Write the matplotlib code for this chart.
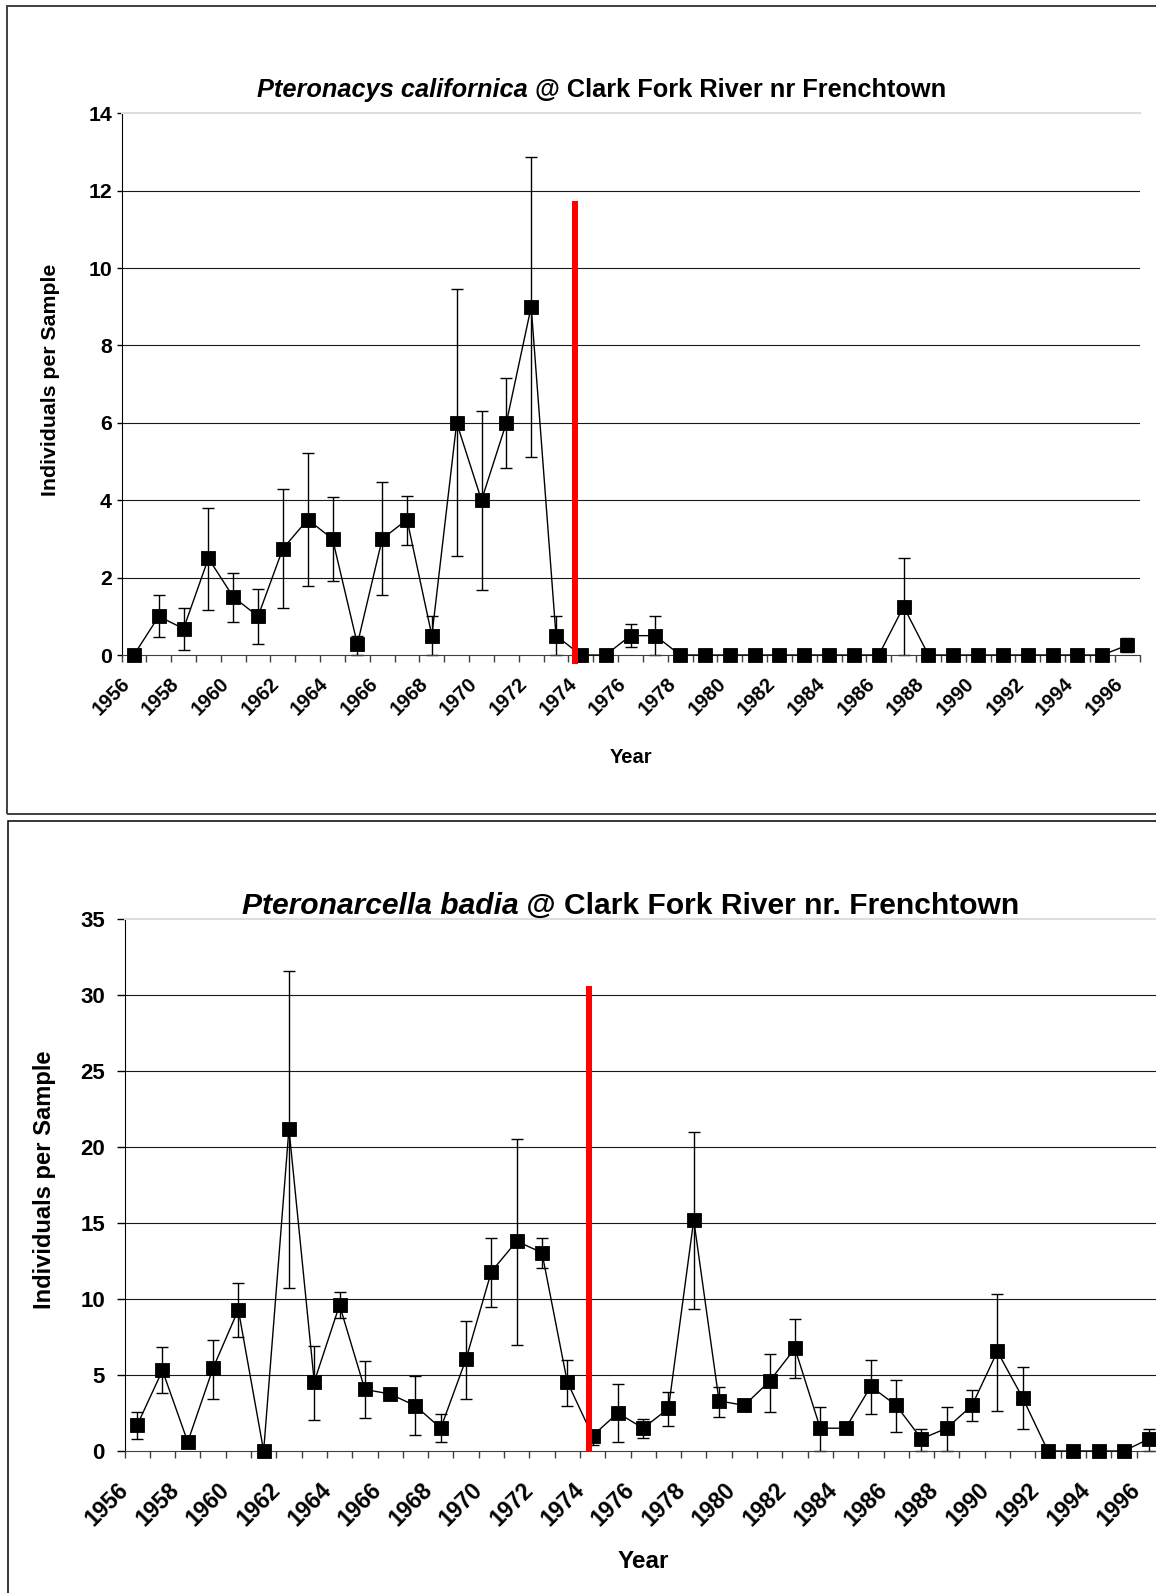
import numpy as np
import matplotlib
matplotlib.use("Agg")
import matplotlib.pyplot as plt
from matplotlib.transforms import ScaledTranslation
from matplotlib.patches import Rectangle

plt.rcParams['font.family'] = ['Liberation Sans', 'DejaVu Sans']
plt.rcParams['font.weight'] = 'bold'

years = np.arange(1956, 1997)
year_labels = [str(y) for y in years[::2]]

# Pteronarcys californica (top panel)
cal_mean = [0, 1.0, 0.68, 2.5, 1.5, 1.0, 2.75, 3.5, 3.0, 0.28,
            3.0, 3.5, 0.5, 6.0, 4.0, 6.0, 9.0, 0.5, 0, 0,
            0.5, 0.5, 0, 0, 0, 0, 0, 0, 0, 0,
            0, 1.25, 0, 0, 0, 0, 0, 0, 0, 0,
            0.25]
nan = np.nan
cal_low = [nan, 0.46, 0.13, 1.17, 0.84, 0.29, 1.21, 1.79, 1.92, 0.0,
           1.55, 2.84, 0.0, 2.55, 1.67, 4.83, 5.13, 0.0, nan, nan,
           0.21, 0.0, nan, nan, nan, nan, nan, nan, nan, nan,
           nan, 0.0, nan, nan, nan, nan, nan, nan, nan, nan,
           0.08]
cal_high = [nan, 1.55, 1.21, 3.79, 2.12, 1.71, 4.29, 5.21, 4.09, 0.5,
            4.46, 4.12, 1.0, 9.47, 6.3, 7.15, 12.87, 1.0, nan, nan,
            0.81, 1.0, nan, nan, nan, nan, nan, nan, nan, nan,
            nan, 2.5, nan, nan, nan, nan, nan, nan, nan, nan,
            0.45]

# Pteronarcella badia (bottom panel)
bad_mean = [1.7, 5.3, 0.6, 5.45, 9.3, 0, 21.2, 4.55, 9.6, 4.05,
            3.75, 2.97, 1.5, 6.05, 11.8, 13.8, 13.05, 4.55, 1.0, 2.5,
            1.5, 2.8, 15.2, 3.3, 3.0, 4.6, 6.75, 1.5, 1.5, 4.25,
            3.0, 0.8, 1.5, 3.0, 6.55, 3.5, 0, 0, 0, 0,
            0.8]
bad_low = [0.77, 3.82, nan, 3.43, 7.49, nan, 10.75, 2.04, 8.77, 2.15,
           nan, 1.05, 0.57, 3.43, 9.47, 6.99, 12.02, 2.95, 0.37, 0.57,
           0.88, 1.65, 9.36, 2.24, 2.75, 2.55, 4.79, 0.0, nan, 2.44,
           1.27, 0.0, 0.0, 1.96, 2.64, 1.45, nan, nan, nan, nan,
           0.0]
bad_high = [2.55, 6.81, nan, 7.27, 11.05, nan, 31.6, 6.9, 10.46, 5.89,
            nan, 4.92, 2.46, 8.57, 14.0, 20.5, 14.0, 5.98, 1.3, 4.42,
            2.13, 3.91, 21.0, 4.22, 3.25, 6.37, 8.68, 2.92, nan, 5.98,
            4.7, 1.43, 2.92, 4.02, 10.33, 5.52, nan, nan, nan, nan,
            1.43]

# red marker line (year position, top value)
cal_event = (1973.77, 11.73)
bad_event = (1973.87, 30.6)

W, H = 1156, 1593
fig = plt.figure(figsize=(W / 100, H / 100), dpi=100)


def fx(px):
    return px / W


def fy(py):
    return 1 - py / H


def panel(ax, mean, low, high, ymax, ystep, event, red_bottom,
          ms, cap, ytick_len, ytick_pad, ysize, xsize, xpad, xdx):
    mean = np.array(mean)
    low = np.array(low)
    high = np.array(high)
    m = ~np.isnan(low)
    ax.errorbar(years[m], mean[m], yerr=[mean[m] - low[m], high[m] - mean[m]],
                fmt='none', ecolor='black', elinewidth=1.0, capsize=cap,
                capthick=1.0, zorder=2, clip_on=False)
    ax.plot(years, mean, color='black', lw=1.0, marker='s', ms=ms,
            mfc='black', mec='black', mew=0.6, zorder=3, clip_on=False)
    ax.plot([event[0], event[0]], [red_bottom, event[1]], color='#ff0000',
            lw=4.3, solid_capstyle='butt', zorder=5, clip_on=False)

    ax.set_xlim(1955.5, 1996.5)
    ax.set_ylim(0, ymax)
    yt = np.arange(0, ymax + 0.1, ystep)
    ax.set_yticks(yt)
    for v in yt[1:-1]:
        ax.axhline(v, color='#1a1a1a', lw=0.8, zorder=1)

    ax.spines['right'].set_visible(False)
    ax.spines['top'].set_color('#dedede')
    ax.spines['top'].set_linewidth(1.5)
    ax.spines['left'].set_color('black')
    ax.spines['bottom'].set_color('#404040')

    ax.tick_params(axis='y', direction='out', length=ytick_len, width=1,
                   pad=ytick_pad, labelsize=ysize)
    ax.set_xticks(np.arange(1955.5, 1997, 1))
    ax.set_xticklabels([])
    ax.tick_params(axis='x', which='major', direction='out', length=5,
                   width=1, color='#404040')
    ax.set_xticks(years[::2], minor=True)
    ax.tick_params(axis='x', which='minor', length=0, pad=xpad)
    ax.set_xticklabels(year_labels, minor=True, rotation=45, ha='right',
                       va='center', rotation_mode='anchor', fontsize=xsize)
    off = ScaledTranslation(xdx / 100, 0, fig.dpi_scale_trans)
    for lbl in ax.get_xticklabels(minor=True):
        lbl.set_transform(lbl.get_transform() + off)


def two_part_title(xc, ybase, ital, rest, size):
    r = fig.canvas.get_renderer()
    t1 = fig.text(0, fy(ybase), ital, style='italic', fontsize=size,
                  va='baseline', ha='left')
    t2 = fig.text(0, fy(ybase), rest, fontsize=size, va='baseline', ha='left')
    w1 = t1.get_window_extent(r).width
    w2 = t2.get_window_extent(r).width
    x0 = xc - (w1 + w2) / 2
    t1.set_x(fx(x0))
    t2.set_x(fx(x0 + w1))


# panel frames
fig.add_artist(Rectangle((fx(7), fy(813.5)), fx(1180), (813.5 - 5.7) / H,
                         transform=fig.transFigure, fill=False,
                         edgecolor='#404040', lw=1.4))
fig.add_artist(Rectangle((fx(8.4), fy(1620)), fx(1180), (1620 - 821) / H,
                         transform=fig.transFigure, fill=False,
                         edgecolor='black', lw=1.1))

ax1 = fig.add_axes([fx(121.5), fy(655), (1139.5 - 121.5) / W, (655 - 113.3) / H])
panel(ax1, cal_mean, cal_low, cal_high, 14, 2, cal_event, -0.22,
      ms=10.5, cap=4, ytick_len=3.4, ytick_pad=3.5, ysize=15.3, xsize=14.3,
      xpad=18.8, xdx=-7)

ax2 = fig.add_axes([fx(124.5), fy(1451), (1161.8 - 124.5) / W, (1451 - 919) / H])
panel(ax2, bad_mean, bad_low, bad_high, 35, 5, bad_event, -0.05,
      ms=10, cap=4.3, ytick_len=5.5, ytick_pad=8.6, ysize=16, xsize=16.5,
      xpad=25.5, xdx=-12)

two_part_title(601.5, 97.3, 'Pteronacys californica',
               ' @ Clark Fork River nr Frenchtown', 18.3)
two_part_title(630.5, 914.3, 'Pteronarcella badia',
               ' @ Clark Fork River nr. Frenchtown', 21.6)

fig.text(fx(51), fy(380), 'Individuals per Sample', rotation=90,
         ha='center', va='center', fontsize=15.3)
fig.text(fx(45), fy(1180), 'Individuals per Sample', rotation=90,
         ha='center', va='center', fontsize=17.1)
fig.text(fx(631.5), fy(763), 'Year', ha='center', va='baseline', fontsize=14.5)
fig.text(fx(643), fy(1568), 'Year', ha='center', va='baseline', fontsize=17.5)

fig.savefig('out.png', dpi=100)
